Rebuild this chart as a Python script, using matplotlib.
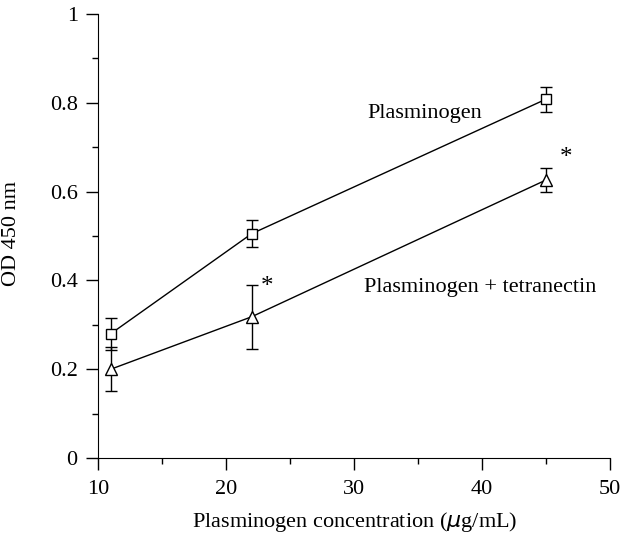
import matplotlib.pyplot as plt
from matplotlib.ticker import MultipleLocator

plt.rcParams['font.family'] = ['Liberation Serif', 'DejaVu Serif']

# concentration (ug/mL)
conc = [11, 22, 45]
# OD 450 nm
plasminogen = [0.28, 0.505, 0.808]
plasminogen_err = [0.036, 0.03, 0.028]
plasm_tetra = [0.20, 0.318, 0.626]
plasm_tetra_err = [0.05, 0.072, 0.028]

fig = plt.figure(figsize=(6.22, 5.36), dpi=100)
ax = fig.add_axes([0.1576, 0.1455, 0.823, 0.8285])

ax.errorbar(conc, plasminogen, yerr=plasminogen_err, color='black', lw=1,
            marker='s', ms=7.5, mfc='white', mec='black', mew=1,
            capsize=4.5, elinewidth=1, capthick=1)
ax.errorbar(conc, plasm_tetra, yerr=plasm_tetra_err, color='black', lw=1,
            marker='^', ms=9, mfc='white', mec='black', mew=1,
            capsize=4.5, elinewidth=1, capthick=1)

ax.text(35.5, 0.775, 'Plasminogen', fontsize=16, ha='center', va='center')
ax.text(39.9, 0.385, 'Plasminogen + tetranectin', fontsize=16, ha='center', va='center')
ax.text(23.2, 0.385, '*', fontsize=18, ha='center', va='center')
ax.text(46.6, 0.675, '*', fontsize=18, ha='center', va='center')

ax.set_xlim(10, 50)
ax.set_ylim(0, 1)
ax.xaxis.set_major_locator(MultipleLocator(10))
ax.xaxis.set_minor_locator(MultipleLocator(5))
ax.yaxis.set_minor_locator(MultipleLocator(0.1))
ax.set_yticks([0, 0.2, 0.4, 0.6, 0.8, 1])
ax.set_yticklabels(['0', '0.2', '0.4', '0.6', '0.8', '1'])
ax.tick_params(which='major', direction='out', length=8.6, width=1, labelsize=16)
ax.tick_params(which='minor', direction='out', length=4.3, width=1)
ax.tick_params(axis='y', which='major', pad=6)
ax.tick_params(axis='x', which='major', pad=7)

for s in ['top', 'right']:
    ax.spines[s].set_visible(False)

fig.text(355 / 622, 1 - 522 / 536, 'Plasminogen concentration ($\\mu$g/mL)',
         fontsize=16, ha='center', va='center')
fig.text(12 / 622, 1 - 234 / 536, 'OD 450 nm', fontsize=16,
         rotation=90, ha='center', va='center')

fig.savefig('out.png', dpi=100)
